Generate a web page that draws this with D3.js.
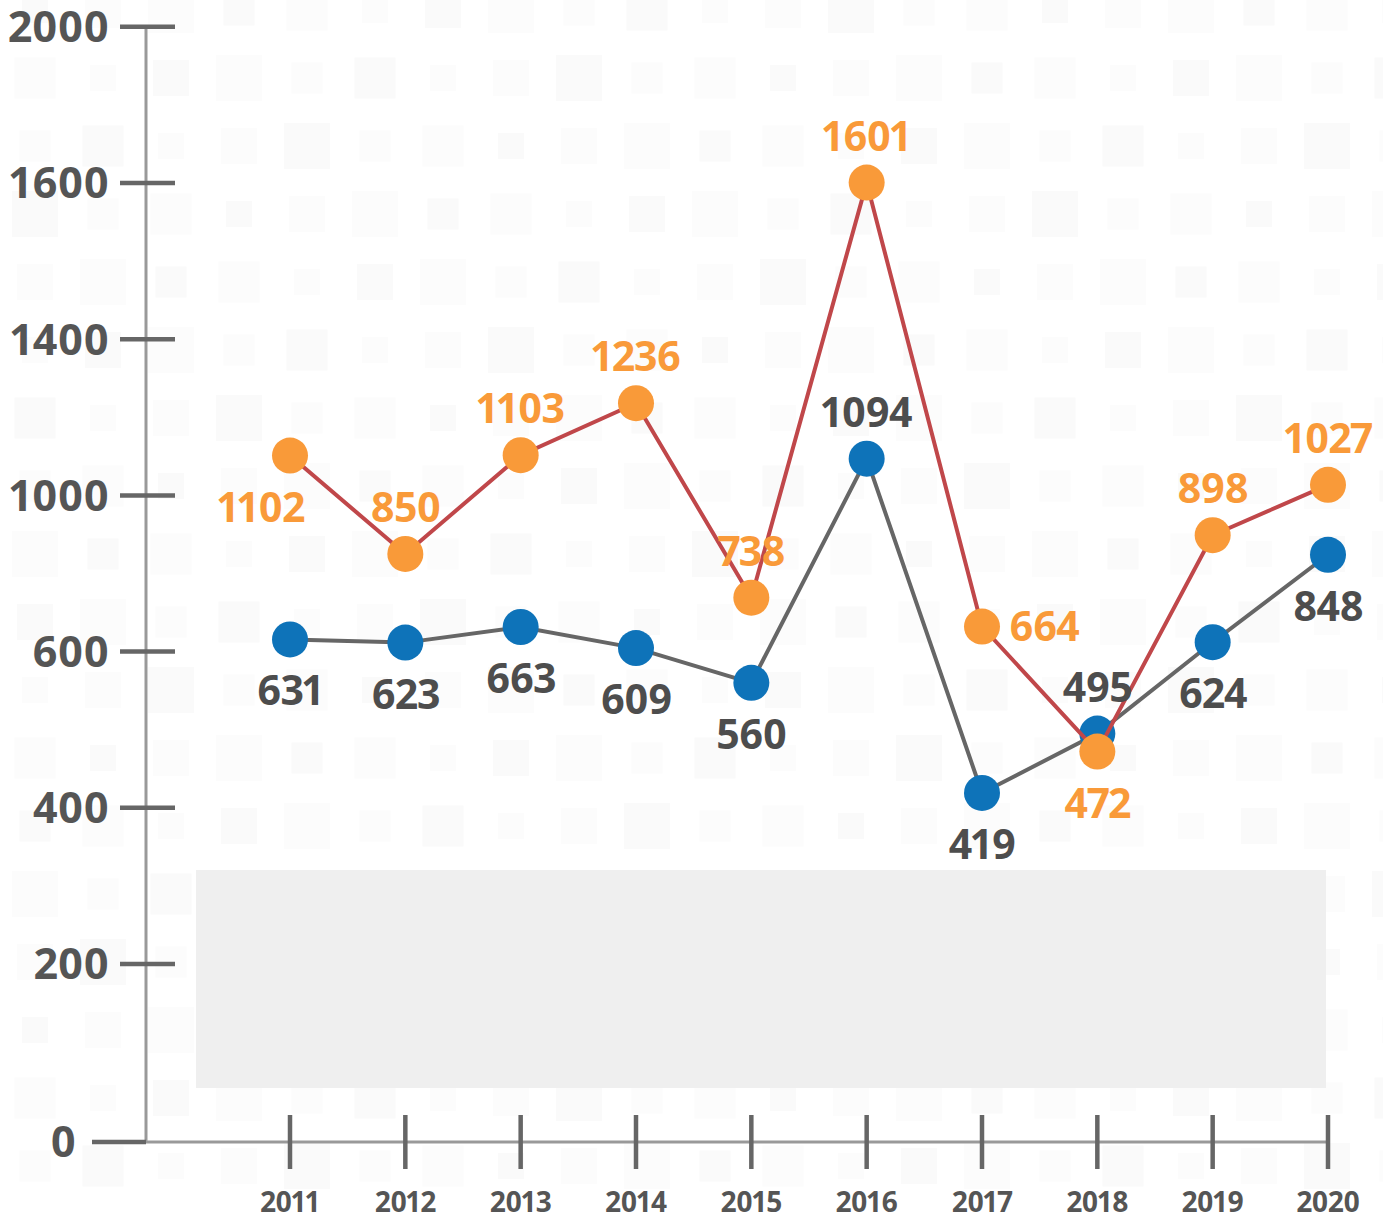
<!DOCTYPE html>
<html>
<head>
<meta charset="utf-8">
<script src="https://cdn.jsdelivr.net/npm/d3@7"></script>
<style>
  html, body { margin: 0; padding: 0; background: #fff; }
  svg { display: block; }
  text { font-family: "Open Sans", "Noto Sans", sans-serif; font-weight: 700; font-variant-numeric: proportional-nums; }
</style>
</head>
<body>
<script>
// data
var years = [2011, 2012, 2013, 2014, 2015, 2016, 2017, 2018, 2019, 2020];
var orangeValues = [1102, 850, 1103, 1236, 738, 1601, 664, 472, 898, 1027];
var blueValues = [631, 623, 663, 609, 560, 1094, 419, 495, 624, 848];
var yTickValues = [0, 200, 400, 600, 1000, 1400, 1600, 2000];

// where each value label sits relative to its dot
var orangeLabelPlace = ["belowleft", "above", "above", "above", "above", "above", "right", "below", "above", "above"];
var blueLabelPlace = ["below", "below", "below", "below", "below", "above", "below", "above", "below", "below"];

var W = 1383, H = 1220;
var axisX = 146, axisY = 1142;

var svg = d3.select("body").append("svg")
  .attr("width", W)
  .attr("height", H);

// faint square pattern in the background
var bg = svg.append("g");
for (var gx = 0; gx < 21; gx++) {
  for (var gy = 0; gy < 18; gy++) {
    var s = 26 + ((gx * 7 + gy * 13) % 5) * 5;
    var cxBg = 35 + gx * 68, cyBg = 10 + gy * 68;
    bg.append("rect")
      .attr("x", cxBg - s / 2)
      .attr("y", cyBg - s / 2)
      .attr("width", s)
      .attr("height", s)
      .attr("fill", ((gx + gy) % 3 === 0) ? "#fafafa" : "#fcfcfc");
  }
}

// the y axis is labelled unevenly, so a polylinear scale: one step per tick
var yRange = yTickValues.map(function (v, i) { return i === 0 ? axisY : 964 - (i - 1) * 156.2; });
var y = d3.scaleLinear().domain(yTickValues).range(yRange);

var x = d3.scalePoint().domain(years).range([290, 1328]);

// grey panel
svg.append("rect")
  .attr("x", 196).attr("y", 870)
  .attr("width", 1130).attr("height", 218)
  .attr("fill", "#efefef");

// axis lines
svg.append("line")
  .attr("x1", axisX).attr("x2", axisX)
  .attr("y1", y(2000) + 2).attr("y2", axisY)
  .attr("stroke", "#999").attr("stroke-width", 3);
svg.append("line")
  .attr("x1", axisX).attr("x2", x(2020))
  .attr("y1", axisY).attr("y2", axisY)
  .attr("stroke", "#999").attr("stroke-width", 3);

// y ticks + labels
var yt = svg.append("g").selectAll("g")
  .data(yTickValues)
  .enter().append("g")
  .attr("transform", function (d) { return "translate(0," + y(d) + ")"; });
yt.append("line")
  .attr("x1", function (d) { return d === 0 ? 92 : 120; })
  .attr("x2", function (d) { return d === 0 ? axisX : 175; })
  .attr("stroke", "#666").attr("stroke-width", 4.5);
yt.append("text")
  .attr("x", function (d) { return d === 0 ? 76 : 109; })
  .attr("dy", "0.36em")
  .attr("text-anchor", "end")
  .attr("font-size", 43)
  .attr("letter-spacing", -0.3)
  .attr("fill", "#555")
  .text(function (d) { return d; });

// x ticks + labels
var xt = svg.append("g").selectAll("g")
  .data(years)
  .enter().append("g")
  .attr("transform", function (d) { return "translate(" + x(d) + ",0)"; });
xt.append("line")
  .attr("y1", 1115).attr("y2", 1169)
  .attr("stroke", "#666").attr("stroke-width", 4.5);
xt.append("text")
  .attr("y", 1212)
  .attr("text-anchor", "middle")
  .attr("font-size", 28)
  .attr("letter-spacing", -0.5)
  .attr("fill", "#555")
  .text(function (d) { return d; });

var line = d3.line()
  .x(function (d, i) { return x(years[i]); })
  .y(function (d) { return y(d); });

function drawSeries(values, lineColor, dotColor) {
  svg.append("path")
    .datum(values)
    .attr("d", line)
    .attr("fill", "none")
    .attr("stroke", lineColor)
    .attr("stroke-width", 4);
  svg.append("g").selectAll("circle")
    .data(values)
    .enter().append("circle")
    .attr("cx", function (d, i) { return x(years[i]); })
    .attr("cy", function (d) { return y(d); })
    .attr("r", 18)
    .attr("fill", dotColor);
}

function drawLabels(values, places, color) {
  svg.append("g").selectAll("text")
    .data(values)
    .enter().append("text")
    .attr("x", function (d, i) {
      var p = places[i], cx = x(years[i]);
      if (p === "right") return cx + 27;
      if (p === "belowleft") return cx - 29;
      return cx;
    })
    .attr("y", function (d, i) {
      var p = places[i], cy = y(d);
      if (p === "above") return cy - 32;
      if (p === "right") return cy + 14;
      return cy + 66;
    })
    .attr("text-anchor", function (d, i) { return places[i] === "right" ? "start" : "middle"; })
    .attr("font-size", 41)
    .attr("letter-spacing", -1)
    .attr("fill", color)
    .text(function (d) { return d; });
}

drawSeries(blueValues, "#666", "#0e73b9");
drawSeries(orangeValues, "#c0474a", "#f99a39");
drawLabels(blueValues, blueLabelPlace, "#4d4d4d");
drawLabels(orangeValues, orangeLabelPlace, "#f99a39");
</script>
</body>
</html>
